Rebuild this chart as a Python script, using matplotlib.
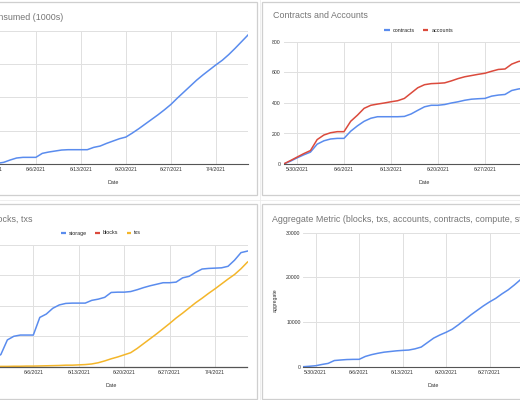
import matplotlib
matplotlib.use("Agg")
import matplotlib.pyplot as plt
from matplotlib.patches import Rectangle
from matplotlib.lines import Line2D
import pandas as pd

plt.rcParams['font.family'] = ['Liberation Sans', 'DejaVu Sans']

# ---------------- data ----------------
dates = pd.date_range('2021-05-28', '2021-07-09', freq='D')

compute = [0, 0, 10, 20, 50, 120, 180, 200, 200, 200, 320, 360, 390, 420, 430,
           430, 430, 430, 500, 540, 620, 690, 760, 810, 930, 1060, 1200, 1340,
           1480, 1630, 1790, 1980, 2160, 2340, 2520, 2680, 2830, 2980, 3120,
           3290, 3480, 3680, 3880]

contracts = [0, 18, 40, 60, 78, 130, 152, 164, 168, 168, 215, 250, 280, 300, 310,
             310, 310, 310, 312, 328, 352, 375, 385, 385, 390, 400, 408, 418, 425,
             428, 430, 445, 452, 456, 482, 492, 498, 505, 515, 520, 530, 540, 548]
accounts = [0, 22, 45, 68, 88, 160, 190, 205, 212, 212, 280, 320, 365, 385, 393,
            400, 408, 415, 430, 465, 500, 520, 527, 529, 532, 545, 560, 572, 580,
            588, 595, 608, 620, 623, 655, 672, 680, 690, 700, 712, 722, 735, 745]

storage = [5, 12, 20, 28, 40, 88, 100, 104, 104, 104, 162, 173, 192, 203, 208,
           209, 209, 209, 218, 222, 228, 244, 245, 245, 247, 253, 260, 266, 271,
           276, 276, 278, 292, 297, 310, 321, 323, 324, 325, 330, 350, 375, 380]
blocks = [0] * 43
txs = [0, 0, 0, 0.5, 1, 1, 1.5, 1.5, 2, 2, 2.5, 3, 3.5, 4, 5, 5, 6, 7, 9, 13, 19,
       26, 32, 39, 46, 60, 76, 92, 108, 125, 142, 160, 176, 193, 210, 225, 241,
       256, 272, 288, 303, 322, 344]

aggregate = [0, 100, 220, 500, 740, 1380, 1500, 1600, 1640, 1650, 2300, 2700,
             3000, 3250, 3400, 3550, 3650, 3730, 4000, 4400, 5400, 6400, 7100,
             7700, 8400, 9400, 10500, 11600, 12600, 13600, 14500, 15300, 16300,
             17200, 18300, 19500, 20600, 21700, 22800, 24000, 25200, 26400, 27600]

tick_dates = pd.to_datetime(['2021-05-30', '2021-06-06', '2021-06-13',
                             '2021-06-20', '2021-06-27', '2021-07-04'])
tick_labels = ['5/30/2021', '6/6/2021', '6/13/2021', '6/20/2021', '6/27/2021', '7/4/2021']

# ---------------- styling ----------------
W, H = 520, 400
BLUE = '#5a8cee'
RED = '#db4a3c'
ORANGE = '#f4b62a'
GRID = '#e0e0e0'
TITLE_C = '#757575'
TXT = '#333333'

fig = plt.figure(figsize=(W / 100, H / 100), dpi=100)
fig.patch.set_facecolor('white')


def fx(x):
    return x / W


def fy(y):
    return 1 - y / H


# spreadsheet background lines in gaps
fig.add_artist(Line2D([0, 1], [fy(199.5), fy(199.5)], color='#ececec', lw=0.6,
                      zorder=-3))
fig.add_artist(Line2D([fx(259.5), fx(259.5)], [0, 1], color='#ececec', lw=0.6,
                      zorder=-3))

# cards
for (x0, y0, x1, y1) in [(-10, 2, 257, 195), (262, 2, 540, 195),
                         (-10, 204, 257, 399), (262, 204, 540, 399)]:
    fig.add_artist(Rectangle((fx(x0), fy(y1)), fx(x1) - fx(x0), (y1 - y0) / H,
                             transform=fig.transFigure, facecolor='white',
                             edgecolor='#cfcfcf', lw=0.9, zorder=-2))


def make_axes(left, right, top, bottom, ymax, ystep):
    ax = fig.add_axes([fx(left), fy(bottom), (right - left) / W, (bottom - top) / H])
    ax.set_facecolor('none')
    ax.set_xlim(dates[0], dates[-1])
    ax.set_ylim(0, ymax)
    ax.set_xticks(tick_dates)
    ax.set_xticklabels(tick_labels)
    yt = list(range(0, ymax + 1, ystep))
    ax.set_yticks(yt)
    ax.set_yticklabels([str(v) for v in yt])
    ax.tick_params(length=0, labelsize=3.7, colors=TXT, pad=2.5)
    ax.tick_params(axis='y', pad=2)
    ax.grid(True, color=GRID, lw=0.7)
    ax.set_axisbelow(True)
    for s in ['top', 'right', 'left']:
        ax.spines[s].set_visible(False)
    ax.spines['bottom'].set_color('#555555')
    ax.spines['bottom'].set_linewidth(0.8)
    ax.spines['bottom'].set_zorder(2.6)
    fig.text(fx((left + right) / 2), fy(bottom + 19), 'Date', fontsize=3.9,
             color=TXT, ha='center', va='center')
    return ax


# ---------- top-left: compute ----------
ax1 = make_axes(-22, 248, 31, 164, 4000, 1000)
ax1.plot(dates, compute, color=BLUE, lw=1.1)
fig.text(fx(63), fy(17), 'Compute Consumed (1000s)', fontsize=6.4, color=TITLE_C,
         ha='right', va='center')

# ---------- top-right: contracts and accounts ----------
ax2 = make_axes(283.6, 565.4, 42, 164, 800, 200)
ax2.plot(dates, contracts, color=BLUE, lw=1.1)
ax2.plot(dates, accounts, color=RED, lw=1.1)
fig.text(fx(273), fy(16), 'Contracts and Accounts', fontsize=6.4, color=TITLE_C,
         ha='left', va='center')

# ---------- bottom-left: storage, blocks, txs ----------
ax3 = make_axes(-25.1, 247.5, 245, 366.7, 400, 100)
ax3.plot(dates, storage, color=BLUE, lw=1.1)
ax3.plot(dates, blocks, color=RED, lw=0.6, zorder=1.5)
ax3.plot(dates, txs, color=ORANGE, lw=1.1)
ax3.spines['bottom'].set_linewidth(0.9)
fig.text(fx(32), fy(219), 'Storage, blocks, txs', fontsize=6.4, color=TITLE_C,
         ha='right', va='center')

# ---------- bottom-right: aggregate ----------
ax4 = make_axes(303.3, 564, 232.7, 366.7, 30000, 10000)
ax4.plot(dates, aggregate, color=BLUE, lw=1.1)
fig.text(fx(272), fy(219),
         'Aggregate Metric (blocks, txs, accounts, contracts, compute, storage)',
         fontsize=6.4, color=TITLE_C, ha='left', va='center')
fig.text(fx(275), fy(300), 'aggregate', fontsize=3.7, color=TXT, rotation=90,
         ha='center', va='center')


# ---------- legends ----------
def legend_item(x0, x1, tx, y, color, label):
    fig.add_artist(Line2D([fx(x0), fx(x1)], [fy(y), fy(y)], color=color, lw=1.6,
                          solid_capstyle='butt'))
    fig.text(fx(tx), fy(y), label, fontsize=3.9, color='#222222', ha='left',
             va='center')


legend_item(384, 389.5, 393, 30, BLUE, 'contracts')
legend_item(422.7, 428.3, 431.7, 30, RED, 'accounts')

legend_item(61, 66, 68.5, 233, BLUE, 'storage')
legend_item(95, 100, 103, 233, RED, 'blocks')
legend_item(126.5, 131, 133.5, 233, ORANGE, 'txs')

fig.savefig('out.png', dpi=100)
